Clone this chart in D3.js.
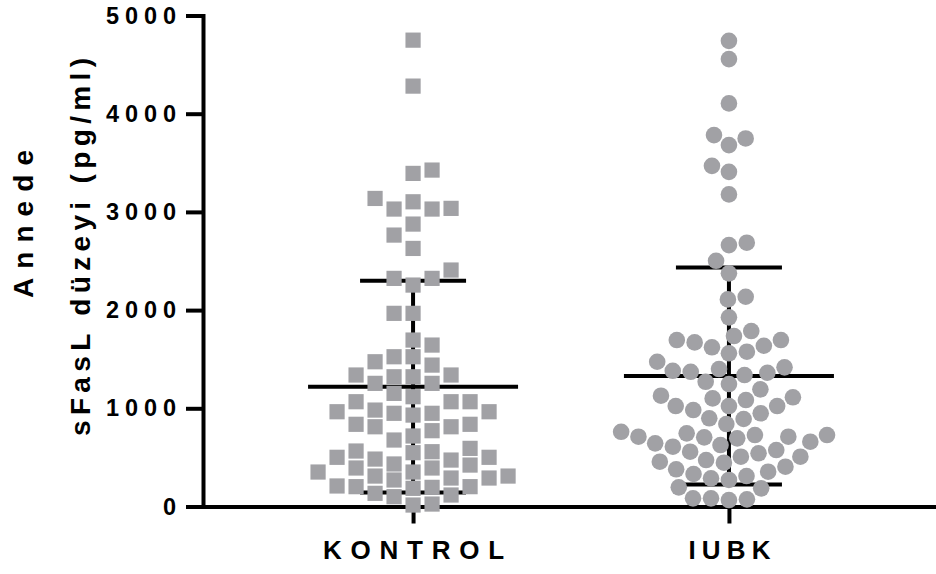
<!DOCTYPE html>
<html>
<head>
<meta charset="utf-8">
<script src="https://cdn.jsdelivr.net/npm/d3@7"></script>
<style>
  body { margin: 0; background: #fff; }
  text { font-family: "Liberation Sans", Arial, sans-serif; font-weight: bold; fill: #000; }
</style>
</head>
<body>
<svg id="chart" width="936" height="574"></svg>
<script>
// groups on the x axis
var groups = ["KONTROL", "IUBK"];

// sFasL values (pg/ml)
var kontrol = [
  4749, 4281, 3426, 3392, 3137, 3103, 3036, 3029, 3029, 2876, 2764, 2628,
  2408, 2323, 2323, 2255, 1967, 1967, 1695, 1644,
  1525, 1525, 1474, 1440, 1339, 1321, 1321, 1339, 1254, 1254, 1152,
  1067, 1067, 1067, 1118, 965, 949, 931, 949, 965, 982,
  837, 812, 772, 812, 837, 677, 718,
  565, 548, 501, 501, 558, 592,
  473, 422, 392, 351, 310, 290, 270, 290, 310, 351, 392, 433, 483,
  202, 195, 134, 100, 15, 25, 117, 185, 202, 209
];
var iubk = [
  4742, 4556, 4105, 3782, 3680, 3748, 3469, 3408, 3178, 2686, 2662, 2502,
  2374, 2109, 2136, 1926,
  1736, 1695, 1560, 1637, 1576, 1621, 1671, 1695, 1787, 1474,
  1417, 1382, 1362, 1339, 1372, 1400, 1270, 1247,
  1193, 1112, 1084, 1101, 1128,
  1023, 1023, 949, 891, 840, 898, 982, 1023,
  761, 728, 711, 704, 660, 626, 575, 542, 558, 609, 643, 694, 711, 728, 745,
  507, 456, 405, 354, 310, 287, 331, 379, 446, 473, 507,
  270, 185, 195, 83, 66, 73, 83
];

// mean and SD bars as drawn in the picture
var means = [1220, 1330];
var sds = [1078, 1105];

var yTicks = [0, 1000, 2000, 3000, 4000, 5000];
var yTitle = ["Annede", "sFasL düzeyi (pg/ml)"];

var svg = d3.select("#chart");

var y = d3.scaleLinear()
    .domain([0, 5000])
    .range([506.5, 15.5]);

var x = d3.scalePoint()
    .domain(groups)
    .range([203, 939])
    .padding(0.665);

// simple beeswarm: lowest values first, each point pushed sideways
// to the nearest free spot
function swarm(values, round, wgap, hgap) {
  var placed = [], side = 1;
  values.slice().sort(d3.ascending).forEach(function(v) {
    var py = y(v);
    var near = placed.filter(function(p) { return Math.abs(p.y - py) < hgap; });
    var cands = [0];
    near.forEach(function(p) {
      var dy = p.y - py;
      var dx = round ? Math.sqrt(hgap * hgap - dy * dy) : wgap;
      cands.push(p.dx + dx, p.dx - dx);
    });
    cands.sort(function(a, b) {
      return Math.abs(a) - Math.abs(b) || (side * (b - a));
    });
    var best = cands.find(function(c) {
      return near.every(function(p) {
        var dy = p.y - py, dx = c - p.dx;
        if (round) return dx * dx + dy * dy >= hgap * hgap - 0.01;
        return Math.abs(dx) >= wgap - 0.01;
      });
    });
    if (best !== 0) side = best > 0 ? -1 : 1;
    placed.push({ v: v, y: py, dx: best });
  });
  return placed;
}

// axes
var yAxis = svg.append("g")
    .attr("transform", "translate(203,0)")
    .call(d3.axisLeft(y)
      .tickValues(yTicks)
      .tickSize(15)
      .tickSizeOuter(0)
      .tickPadding(12)
      .tickFormat(d3.format("d")));

var xAxis = svg.append("g")
    .attr("transform", "translate(0,506.5)")
    .call(d3.axisBottom(x)
      .tickSize(15)
      .tickSizeOuter(0));

svg.selectAll(".domain, .tick line")
    .attr("stroke", "#000")
    .attr("stroke-width", 4)
    .attr("stroke-linecap", "square");

yAxis.selectAll("text")
    .attr("font-size", 23.5)
    .each(function(d) {
      if (String(d).length > 1) d3.select(this).attr("textLength", 70).attr("lengthAdjust", "spacing");
    });

var labelLen = { KONTROL: 181, IUBK: 82 };
xAxis.selectAll("text")
    .attr("font-size", 26)
    .attr("y", 52.5)
    .attr("dy", null)
    .attr("textLength", function(d) { return labelLen[d]; })
    .attr("lengthAdjust", "spacing");

// y title, two lines
svg.append("text")
    .attr("transform", "translate(33,224) rotate(-90)")
    .attr("text-anchor", "middle")
    .attr("font-size", 28)
    .attr("textLength", 148)
    .attr("lengthAdjust", "spacing")
    .text(yTitle[0]);

svg.append("text")
    .attr("transform", "translate(90,247) rotate(-90)")
    .attr("text-anchor", "middle")
    .attr("font-size", 28)
    .attr("textLength", 378)
    .attr("lengthAdjust", "spacing")
    .text(yTitle[1]);

// mean +/- SD bars
var bars = svg.append("g")
    .attr("stroke", "#000")
    .attr("stroke-width", 4)
  .selectAll("g")
  .data(groups)
  .enter().append("g");

bars.append("line")
    .attr("x1", function(d) { return x(d); })
    .attr("x2", function(d) { return x(d); })
    .attr("y1", function(d, i) { return y(means[i] - sds[i]); })
    .attr("y2", function(d, i) { return y(means[i] + sds[i]); });

bars.append("line")
    .attr("x1", function(d) { return x(d) - 105; })
    .attr("x2", function(d) { return x(d) + 105; })
    .attr("y1", function(d, i) { return y(means[i]); })
    .attr("y2", function(d, i) { return y(means[i]); });

[-1, 1].forEach(function(s) {
  bars.append("line")
      .attr("x1", function(d) { return x(d) - 53; })
      .attr("x2", function(d) { return x(d) + 53; })
      .attr("y1", function(d, i) { return y(means[i] + s * sds[i]); })
      .attr("y2", function(d, i) { return y(means[i] + s * sds[i]); });
});

// points
var gray = "#a1a1a5";

svg.append("g")
  .selectAll("rect")
  .data(swarm(kontrol, false, 19, 16))
  .enter().append("rect")
    .attr("x", function(d) { return x("KONTROL") + d.dx - 7.6; })
    .attr("y", function(d) { return d.y - 7.6; })
    .attr("width", 15.2)
    .attr("height", 15.2)
    .attr("fill", gray);

svg.append("g")
  .selectAll("circle")
  .data(swarm(iubk, true, 0, 18))
  .enter().append("circle")
    .attr("cx", function(d) { return x("IUBK") + d.dx; })
    .attr("cy", function(d) { return d.y; })
    .attr("r", 8.3)
    .attr("fill", gray);
</script>
</body>
</html>
